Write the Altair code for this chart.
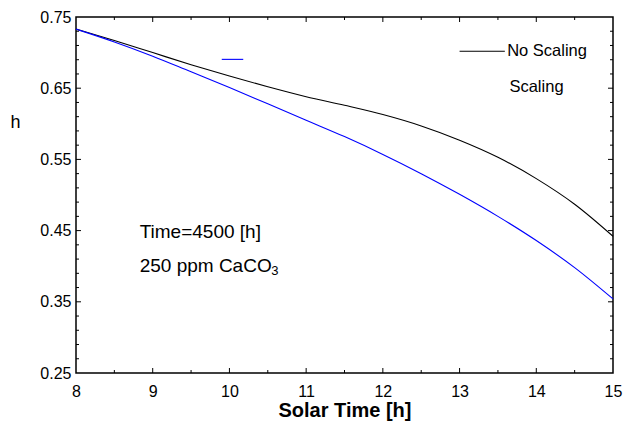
import altair as alt
import pandas as pd

# Solar time (h) and relative efficiency h for the two cases
solar_time = [8.0, 8.5, 9.0, 9.5, 10.0, 10.5, 11.0, 11.5, 12.0, 12.5, 13.0, 13.5, 14.0, 14.5, 15.0]
h_no_scaling = [0.733, 0.717, 0.700, 0.683, 0.667, 0.652, 0.638, 0.626, 0.613, 0.597, 0.577, 0.553, 0.523, 0.487, 0.442]
h_scaling = [0.733, 0.715, 0.695, 0.673, 0.651, 0.628, 0.605, 0.582, 0.557, 0.530, 0.501, 0.470, 0.436, 0.398, 0.354]

series_names = ["No Scaling", "Scaling"]
series_colors = ["#000000", "#0000ff"]

x_labels = [8, 9, 10, 11, 12, 13, 14, 15]
y_labels = [0.25, 0.35, 0.45, 0.55, 0.65, 0.75]
x_major = [9, 10, 11, 12, 13, 14]
x_minor = [8.5, 9.5, 10.5, 11.5, 12.5, 13.5, 14.5]
y_major = [0.35, 0.45, 0.55, 0.65]
y_minor = [0.27, 0.29, 0.31, 0.33, 0.37, 0.39, 0.41, 0.43, 0.47, 0.49, 0.51, 0.53,
           0.57, 0.59, 0.61, 0.63, 0.67, 0.69, 0.71, 0.73]

W, H = 537, 356
FONT = "Liberation Sans"

curves = pd.DataFrame({
    "t": solar_time * 2,
    "h": h_no_scaling + h_scaling,
    "case": [series_names[0]] * len(solar_time) + [series_names[1]] * len(solar_time),
})

xs = alt.Scale(domain=[8, 15], nice=False, zero=False)
ys = alt.Scale(domain=[0.25, 0.75], nice=False, zero=False)

lines = alt.Chart(curves).mark_line(strokeWidth=1.1, interpolate="monotone").encode(
    x=alt.X("t:Q", scale=xs,
            axis=alt.Axis(values=x_labels, format="d", grid=False, ticks=False, domain=False,
                          labelFlush=False, labelOverlap=False,
                          labelFontSize=16, labelFont=FONT, labelColor="black",
                          labelPadding=10, title="Solar Time [h]", titleFont=FONT,
                          titleFontSize=20, titleFontWeight="bold", titleColor="black",
                          titlePadding=1)),
    y=alt.Y("h:Q", scale=ys,
            axis=alt.Axis(values=y_labels, format=".2f", grid=False, ticks=False, domain=False,
                          labelFlush=False, labelOverlap=False,
                          labelFontSize=16, labelFont=FONT, labelColor="black",
                          labelPadding=5, title="h", titleAngle=0, titleFont=FONT,
                          titleFontSize=18, titleFontWeight="normal", titleColor="black",
                          titleX=-61, titleY=105, titleAlign="center", titleBaseline="middle")),
    color=alt.Color("case:N", scale=alt.Scale(domain=series_names, range=series_colors), legend=None),
    detail="case:N",
)


def vticks(values, length):
    d = pd.DataFrame({"t": values})
    base = alt.Chart(d).mark_rule(color="black", strokeWidth=1)
    bottom = base.encode(x=alt.X("t:Q", scale=xs), y=alt.value(H - length), y2=alt.value(H))
    top = base.encode(x=alt.X("t:Q", scale=xs), y=alt.value(0), y2=alt.value(length))
    return [bottom, top]


def hticks(values, length):
    d = pd.DataFrame({"h": values})
    base = alt.Chart(d).mark_rule(color="black", strokeWidth=1)
    left = base.encode(y=alt.Y("h:Q", scale=ys), x=alt.value(0), x2=alt.value(length))
    right = base.encode(y=alt.Y("h:Q", scale=ys), x=alt.value(W - length), x2=alt.value(W))
    return [left, right]


ticks = vticks(x_major, 5) + vticks(x_minor, 3) + hticks(y_major, 5) + hticks(y_minor, 3)

# Legend entries
legend_lines = pd.DataFrame({
    "t": [13.0, 9.9], "t2": [13.59, 10.18], "h": [0.702, 0.6905], "case": series_names,
})
legend_marks = alt.Chart(legend_lines).mark_rule(strokeWidth=1.1).encode(
    x=alt.X("t:Q", scale=xs), x2="t2:Q", y=alt.Y("h:Q", scale=ys),
    color=alt.Color("case:N", scale=alt.Scale(domain=series_names, range=series_colors), legend=None),
)
legend_text = pd.DataFrame({"t": [13.62, 13.65], "h": [0.702, 0.652], "label": series_names})
legend_labels = alt.Chart(legend_text).mark_text(
    align="left", baseline="middle", fontSize=16.5, font=FONT, color="black"
).encode(x=alt.X("t:Q", scale=xs), y=alt.Y("h:Q", scale=ys), text="label:N")

# Run conditions
notes = pd.DataFrame({"t": [8.83, 8.83], "h": [0.4475, 0.4005], "label": ["Time=4500 [h]", "250 ppm CaCO"]})
note_text = alt.Chart(notes).mark_text(
    align="left", baseline="middle", fontSize=19, font=FONT, color="black"
).encode(x=alt.X("t:Q", scale=xs), y=alt.Y("h:Q", scale=ys), text="label:N")
sub = pd.DataFrame({"t": [10.545], "h": [0.393], "label": ["3"]})
sub_text = alt.Chart(sub).mark_text(
    align="left", baseline="middle", fontSize=13, font=FONT, color="black"
).encode(x=alt.X("t:Q", scale=xs), y=alt.Y("h:Q", scale=ys), text="label:N")

chart = alt.layer(lines, *ticks, legend_marks, legend_labels, note_text, sub_text).properties(
    width=W, height=H,
    autosize=alt.AutoSizeParams(type="none"),
    padding={"left": 76, "top": 17, "right": 11, "bottom": 55},
    background="white",
).configure_view(stroke="black", strokeWidth=1.5)

chart.save("out.html", embed_options={"renderer": "svg", "actions": False})
